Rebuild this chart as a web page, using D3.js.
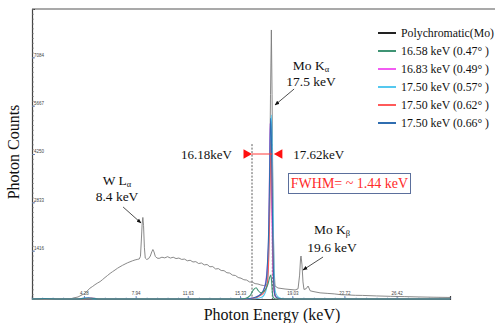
<!DOCTYPE html>
<html lang="en">
<head>
<meta charset="utf-8">
<script src="https://cdn.jsdelivr.net/npm/d3@7"></script>
<style>
    body { margin: 0; background: #fff; }
    .tick-label { font-family: "Liberation Sans", Arial, sans-serif; font-size: 4.5px; fill: #444; }
</style>
</head>
<body>
<div id="chart"></div>
<script>
// polychromatic spectrum (keV, counts)
var polyE = [0.6, 2.0, 3.0, 3.4, 3.86, 4.28, 4.5, 4.71, 4.9, 5.06, 5.25, 5.42, 5.6, 5.77, 5.95, 6.13, 6.3, 6.48, 6.65, 6.83,
    7.0, 7.19, 7.36, 7.54, 7.72, 7.9, 8.05, 8.2, 8.28, 8.34, 8.40, 8.45, 8.50, 8.56, 8.62, 8.72, 8.85, 8.98, 9.08, 9.16,
    9.24, 9.33, 9.45, 9.6, 9.8, 10.0, 10.2, 10.4, 10.6, 10.8, 11.0, 11.2, 11.4, 11.6, 11.8, 12.0, 12.2, 12.4, 12.6, 12.8,
    13.0, 13.2, 13.4, 13.6, 13.8, 14.0, 14.2, 14.4, 14.6, 14.8, 15.0, 15.2, 15.4, 15.6, 15.8, 16.0, 16.2, 16.4, 16.6, 16.8,
    17.0, 17.15, 17.25, 17.35, 17.42, 17.49, 17.55, 17.60, 17.67, 17.74, 17.81, 18.02, 18.52, 19.23, 19.44, 19.55, 19.62, 19.65, 19.72, 19.79,
    19.86, 20.01, 20.15, 20.30, 20.5, 21.0, 21.5, 22.0, 22.5, 23.0, 23.5, 24.0, 25.0, 26.0, 27.0, 28.0, 29.0, 30.2];
var polyC = [0, 0, 5, 15, 60, 150, 230, 320, 370, 420, 470, 510, 570, 630, 690, 750, 800, 850, 900, 945,
    985, 1025, 1060, 1090, 1120, 1145, 1160, 1175, 1250, 1700, 2200, 2390, 2150, 1500, 1200, 1160, 1180, 1260, 1380, 1450,
    1380, 1250, 1200, 1190, 1225, 1205, 1240, 1200, 1225, 1185, 1200, 1160, 1170, 1120, 1135, 1085, 1095, 1040, 1055, 1000,
    1010, 945, 950, 880, 890, 835, 830, 770, 760, 700, 690, 630, 610, 565, 555, 500, 495, 450, 440, 410,
    395, 390, 450, 1500, 3000, 6000, 7885, 6000, 2500, 900, 380, 322, 293, 264, 300, 700, 1200, 1260, 1000, 500,
    280, 300, 380, 240, 220, 180, 165, 150, 125, 118, 108, 105, 90, 78, 70, 60, 52, 45];

// monochromatic spectra
var greenE = [0.6, 15.12, 15.69, 16.04, 16.25, 16.47, 16.61, 16.82, 17.03, 17.17, 17.32, 17.42, 17.51, 17.56, 17.62, 17.69, 17.88, 30.2];
var greenC = [0, 0, 15, 100, 250, 330, 250, 180, 230, 300, 450, 620, 700, 550, 200, 40, 0, 0];

var magentaE = [0.6, 15.3, 16.11, 16.54, 16.82, 17.04, 17.18, 17.34, 17.40, 17.46, 17.51, 17.57, 17.64, 17.71, 17.81, 18.1, 30.2];
var magentaC = [0, 0, 20, 70, 160, 300, 600, 1500, 3000, 5150, 4500, 2800, 1200, 350, 80, 0, 0];

var cyanE = [0.6, 3.9, 4.4, 5.0, 15.33, 16.4, 16.89, 17.17, 17.32, 17.39, 17.46, 17.51, 17.55, 17.60, 17.66, 17.71, 17.76, 17.88, 18.10, 18.5, 30.2];
var cyanC = [0, 0, 25, 0, 0, 10, 60, 250, 800, 1800, 3500, 5000, 5390, 4700, 3000, 1500, 500, 150, 40, 0, 0];

var redE = [0.6, 4.2, 4.8, 5.4, 15.6, 16.40, 16.75, 17.03, 17.25, 17.35, 17.42, 17.48, 17.52, 17.57, 17.63, 17.69, 17.77, 17.95, 18.3, 30.2];
var redC = [0, 0, 30, 0, 0, 30, 100, 200, 420, 1000, 2200, 3800, 4650, 4000, 2200, 800, 200, 30, 0, 0];

var blueE = [0.6, 1.5, 2.5, 3.8, 4.6, 5.3, 14.98, 16.04, 16.47, 16.75, 16.96, 17.17, 17.28, 17.37, 17.43, 17.49, 17.55, 17.61, 17.67, 17.73, 17.81, 18.02, 18.5, 30.2];
var blueC = [0, 15, 0, 0, 35, 0, 0, 15, 60, 120, 230, 500, 1100, 2200, 3800, 5300, 4800, 3000, 1300, 400, 100, 20, 0, 0];

var seriesNames = ["Polychromatic(Mo)", "16.58 keV (0.47\u00b0 )", "16.83 keV (0.49\u00b0 )",
    "17.50 keV (0.57\u00b0 )", "17.50 keV (0.62\u00b0 )", "17.50 keV (0.66\u00b0 )"];
var seriesColors = ["#222222", "#3f9474", "#f25cf2", "#55c8ef", "#ff5a5a", "#2f6db0"];

var xTicks = [4.28, 7.94, 11.63, 15.33, 19.03, 22.72, 26.42];
var xTickLabels = ["4.28", "7.94", "11.63", "15.33", "19.03", "22.72", "26.42"];
var yTicks = [1416.67, 2833.33, 4250, 5666.67, 7083.33];
var yTickLabels = ["1416", "2833", "4250", "5667", "7084"];

var fwhmLow = 16.18, fwhmHigh = 17.62;

var width = 495, height = 323;
var margin = {top: 9, left: 32, bottom: 24, right: 45};
var serif = "'Liberation Serif', 'Times New Roman', Times, 'DejaVu Serif', serif";

var x = d3.scaleLinear().domain([0.6, 30.2]).range([margin.left, width - margin.right]);
var y = d3.scaleLinear().domain([0, 8500]).range([height - margin.bottom, margin.top]);

var svg = d3.select("#chart").append("svg")
    .attr("width", width)
    .attr("height", height);

function zip(e, c) {
    return e.map(function (d, i) { return [d, c[i]]; });
}

function label(px, py, size, anchor, color) {
    return svg.append("text")
        .attr("x", px).attr("y", py)
        .style("font-family", serif)
        .style("text-anchor", anchor)
        .style("font-size", size + "px")
        .style("fill", color || "#111");
}

var line = d3.line()
    .x(function (d) { return x(d[0]); })
    .y(function (d) { return y(d[1]); });

var smooth = d3.line()
    .curve(d3.curveMonotoneX)
    .x(function (d) { return x(d[0]); })
    .y(function (d) { return y(d[1]); });

// frame
svg.append("line")
    .attr("x1", margin.left).attr("x2", width)
    .attr("y1", margin.top).attr("y2", margin.top)
    .style("stroke", "#555").style("stroke-width", 1.2);

// y axis
var yAxis = svg.append("g")
    .attr("transform", "translate(" + margin.left + ",0)")
    .call(d3.axisLeft(y).tickValues(yTicks).tickSize(-3).tickFormat(function (d, i) { return yTickLabels[i]; }));
yAxis.select(".domain").style("stroke", "#444").style("stroke-width", 1.2);
yAxis.selectAll(".tick line").style("stroke", "#6a8cc8");
yAxis.selectAll(".tick text")
    .attr("class", "tick-label")
    .attr("x", 2).attr("dy", "-1.2px")
    .style("text-anchor", "start");

var yMinor = svg.append("g")
    .attr("transform", "translate(" + margin.left + ",0)")
    .call(d3.axisLeft(y).tickValues(d3.range(0, 8500, 8500 / 60)).tickSize(-2).tickFormat(""));
yMinor.select(".domain").remove();
yMinor.selectAll(".tick line").style("stroke", "#777").style("stroke-width", 0.6);

// x axis
var xAxis = svg.append("g")
    .attr("transform", "translate(0," + y(0) + ")")
    .call(d3.axisBottom(x).tickValues(xTicks).tickSize(-3).tickFormat(function (d, i) { return xTickLabels[i]; }));
xAxis.select(".domain").style("stroke", "#444").style("stroke-width", 1.2);
xAxis.selectAll(".tick line").style("stroke", "#6a8cc8");
xAxis.selectAll(".tick text")
    .attr("class", "tick-label")
    .attr("y", -4).attr("dy", 0);

var xMinor = svg.append("g")
    .attr("transform", "translate(0," + y(0) + ")")
    .call(d3.axisBottom(x).tickValues(d3.range(0.58, 30.2, 0.74)).tickSize(-1.5).tickFormat(""));
xMinor.select(".domain").remove();
xMinor.selectAll(".tick line").style("stroke", "#6a8cc8").style("stroke-width", 0.6);

// FWHM dashed lines
svg.selectAll(".fwhm")
    .data([fwhmLow, fwhmHigh])
    .enter().append("line")
    .attr("x1", function (d) { return x(d); })
    .attr("x2", function (d) { return x(d); })
    .attr("y1", y(4540))
    .attr("y2", y(0))
    .style("stroke", "#333")
    .style("stroke-width", 0.8)
    .style("stroke-dasharray", "2,1.5");

// spectra
svg.append("path")
    .datum(zip(polyE, polyC))
    .attr("d", line)
    .style("fill", "none")
    .style("stroke", "#7c7c7c")
    .style("stroke-width", 0.9);

var mono = [zip(greenE, greenC), zip(magentaE, magentaC), zip(cyanE, cyanC), zip(redE, redC), zip(blueE, blueC)];
var drawOrder = [1, 2, 3, 4, 0];
drawOrder.forEach(function (k) {
    svg.append("path")
        .datum(mono[k])
        .attr("d", smooth)
        .style("fill", "none")
        .style("stroke", seriesColors[k + 1])
        .style("stroke-width", 1.1);
});

// FWHM arrow
var ty = y(4250);
svg.append("line")
    .attr("x1", x(fwhmLow)).attr("x2", x(fwhmHigh))
    .attr("y1", ty).attr("y2", ty)
    .style("stroke", "#ff3b3b").style("stroke-width", 1);

svg.append("path")
    .attr("d", "M" + x(fwhmLow) + "," + ty + "L" + (x(fwhmLow) - 8.5) + "," + (ty - 4.8) + "L" + (x(fwhmLow) - 8.5) + "," + (ty + 4.8) + "Z")
    .style("fill", "#ff1010");
svg.append("path")
    .attr("d", "M" + (x(fwhmHigh) + 1.5) + "," + ty + "L" + (x(fwhmHigh) + 10) + "," + (ty - 4.8) + "L" + (x(fwhmHigh) + 10) + "," + (ty + 4.8) + "Z")
    .style("fill", "#ff1010");

label(x(fwhmLow) - 20, ty + 4.5, 13, "end").text("16.18keV");
label(x(fwhmHigh) + 21, ty + 4.5, 13, "start").text("17.62keV");

// FWHM box
svg.append("rect")
    .attr("x", 288.5).attr("y", 173.5)
    .attr("width", 122).attr("height", 20)
    .style("fill", "#fff")
    .style("stroke", "#5b6f9c")
    .style("stroke-width", 1);
label(349.5, 188, 14, "middle", "#ff2a2a").text("FWHM= ~ 1.44 keV");

// peak annotations
svg.append("defs").append("marker")
    .attr("id", "arrow")
    .attr("viewBox", "0 0 10 10")
    .attr("refX", 9).attr("refY", 5)
    .attr("markerWidth", 6).attr("markerHeight", 6)
    .attr("orient", "auto")
    .append("path")
    .attr("d", "M0,1L10,5L0,9Z")
    .style("fill", "#111");

var notes = [
    {name: "Mo K", sub: "\u03b1", energy: "17.5 keV", e: 20.36, c1: 6700, c2: 6230, from: [19.16, 6155], to: [17.81, 5686]},
    {name: "W L", sub: "\u03b1", energy: "8.4 keV", e: 6.62, c1: 3340, c2: 2870, from: [7.05, 2697], to: [8.32, 2228]},
    {name: "Mo K", sub: "\u03b2", energy: "19.6 keV", e: 21.85, c1: 1900, c2: 1390, from: [21.21, 1231], to: [19.79, 850]}
];

notes.forEach(function (n) {
    var t = label(x(n.e), y(n.c1), 13.5, "middle");
    t.append("tspan").text(n.name);
    t.append("tspan").attr("dy", 2).style("font-size", "8.5px").text(n.sub);

    label(x(n.e), y(n.c2), 13.5, "middle").text(n.energy);

    svg.append("line")
        .attr("x1", x(n.from[0])).attr("y1", y(n.from[1]))
        .attr("x2", x(n.to[0])).attr("y2", y(n.to[1]))
        .style("stroke", "#222").style("stroke-width", 0.8)
        .attr("marker-end", "url(#arrow)");
});

// legend
var legend = svg.selectAll(".legend")
    .data(seriesNames)
    .enter().append("g")
    .attr("transform", function (d, i) { return "translate(378," + (33 + i * 18) + ")"; });

legend.append("line")
    .attr("x1", 0).attr("x2", 18)
    .style("stroke", function (d, i) { return seriesColors[i]; })
    .style("stroke-width", 2);

legend.append("text")
    .attr("x", 23).attr("dy", "0.35em")
    .style("font-family", serif)
    .style("font-size", "11.8px").style("fill", "#111")
    .text(function (d) { return d; });

// axis titles
label(0, 0, 16, "middle")
    .attr("transform", "translate(19,152) rotate(-90)")
    .text("Photon Counts");

label(272, 320, 16, "middle").text("Photon Energy (keV)");
</script>
</body>
</html>
